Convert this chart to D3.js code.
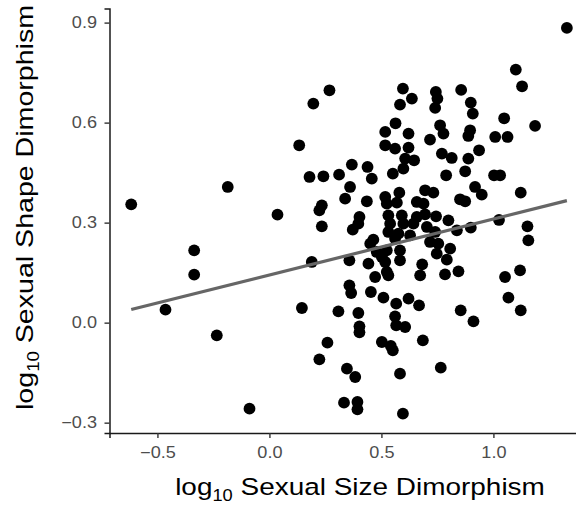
<!DOCTYPE html>
<html>
<head>
<meta charset="utf-8">
<script src="https://cdn.jsdelivr.net/npm/d3@7"></script>
<style>
  html, body { margin: 0; padding: 0; background: #fff; }
  svg { display: block; font-family: "Liberation Sans", Arial, Helvetica, sans-serif; }
</style>
</head>
<body>
<svg id="chart" width="576" height="506"></svg>
<script>
// log10 Sexual Size Dimorphism (x) and log10 Sexual Shape Dimorphism (y)
const ssdX = [
  -0.617,-0.186,-0.336,-0.336,-0.464,-0.235,-0.089,0.036,0.196,0.268,
  0.596,0.636,0.583,0.563,1.328,1.100,1.128,0.856,0.743,0.750,
  0.740,0.899,0.908,1.048,0.133,0.517,0.621,0.517,0.561,0.621,
  0.606,0.646,0.598,0.551,0.368,0.438,0.457,0.179,0.241,0.311,
  0.360,0.338,0.234,0.223,0.435,0.402,0.517,0.580,0.524,0.569,
  0.658,1.186,0.762,0.777,0.717,0.896,0.888,1.008,1.063,0.770,
  0.814,0.888,0.936,0.789,0.874,1.003,1.030,1.122,0.918,0.948,
  0.851,0.874,0.695,0.732,0.688,0.695,0.744,0.799,1.025,0.234,
  0.397,0.372,0.464,0.450,0.189,0.357,0.442,0.502,0.517,0.583,
  0.583,0.524,0.479,0.524,0.472,0.531,0.673,0.682,0.531,0.591,
  0.658,0.539,0.598,0.531,0.576,0.628,0.561,0.643,0.357,0.365,
  0.453,0.509,0.566,0.621,0.668,0.145,0.308,0.397,0.561,0.703,
  0.740,0.837,0.899,1.152,1.156,0.717,0.754,0.807,0.747,0.792,
  0.784,0.844,1.052,1.119,1.067,1.122,0.854,0.911,0.402,0.402,
  0.566,0.606,0.259,0.223,0.502,0.542,0.551,0.346,0.383,0.583,
  0.333,0.393,0.393,0.596,0.685,0.765
];
const sshY = [
  0.355,0.407,0.217,0.144,0.039,-0.038,-0.258,0.324,0.657,0.697,
  0.702,0.672,0.654,0.598,0.884,0.759,0.709,0.698,0.692,0.672,
  0.644,0.660,0.627,0.613,0.532,0.572,0.567,0.532,0.522,0.525,
  0.492,0.487,0.462,0.447,0.474,0.467,0.432,0.437,0.439,0.444,
  0.407,0.372,0.352,0.337,0.364,0.317,0.377,0.390,0.357,0.360,
  0.362,0.590,0.592,0.567,0.549,0.577,0.560,0.557,0.557,0.507,
  0.494,0.492,0.517,0.442,0.454,0.442,0.442,0.390,0.407,0.384,
  0.370,0.364,0.397,0.390,0.357,0.325,0.319,0.307,0.308,0.289,
  0.297,0.279,0.249,0.237,0.182,0.187,0.177,0.197,0.182,0.187,
  0.217,0.217,0.212,0.152,0.137,0.142,0.142,0.175,0.322,0.322,
  0.317,0.297,0.297,0.272,0.267,0.262,0.252,0.297,0.112,0.089,
  0.092,0.075,0.057,0.072,0.052,0.044,0.034,0.029,0.019,0.287,
  0.272,0.277,0.285,0.289,0.247,0.242,0.237,0.222,0.207,0.189,
  0.145,0.154,0.137,0.157,0.075,0.037,0.037,0.004,-0.011,-0.029,
  -0.008,-0.013,-0.060,-0.110,-0.058,-0.070,-0.083,-0.138,-0.163,-0.153,
  -0.240,-0.238,-0.260,-0.273,-0.053,-0.135
];
// fitted regression line (lm)
const fitIntercept = 0.143;
const fitSlope = 0.168;
const fitRange = [-0.617, 1.328];

const xTicks = [-0.5, 0.0, 0.5, 1.0];
const yTicks = [-0.3, 0.0, 0.3, 0.6, 0.9];
const xLabel = ["log", "10", " Sexual Size Dimorphism"];
const yLabel = ["log", "10", " Sexual Shape Dimorphism"];

const points = ssdX.map((x, i) => ({ x, y: sshY[i] }));

const svg = d3.select("#chart");
const x = d3.scaleLinear().domain([-0.714, 1.425]).range([109.5, 588.6]);
const y = d3.scaleLinear().domain([-0.331, 0.942]).range([433, 8.6]);

// points
svg.append("g")
  .selectAll("circle")
  .data(points)
  .join("circle")
  .attr("cx", d => x(d.x))
  .attr("cy", d => y(d.y))
  .attr("r", 5.9)
  .attr("fill", "#000");

// regression line
const line = d3.line().x(d => x(d)).y(d => y(fitIntercept + fitSlope * d));
svg.append("path")
  .datum(fitRange)
  .attr("d", line)
  .attr("fill", "none")
  .attr("stroke", "#666666")
  .attr("stroke-width", 3.2);

// axes
const fmt = d => d3.format(".1f")(d).replace("-", "\u2212");
const xAxis = svg.append("g")
  .attr("transform", `translate(0,${y.range()[0]})`)
  .call(d3.axisBottom(x).tickValues(xTicks).tickFormat(fmt).tickSizeOuter(0).tickSize(5).tickPadding(9));
const yAxis = svg.append("g")
  .attr("transform", `translate(${x.range()[0]},0)`)
  .call(d3.axisLeft(y).tickValues(yTicks).tickFormat(fmt).tickSizeOuter(0).tickSize(5).tickPadding(7.5));

[xAxis, yAxis].forEach(g => {
  g.select(".domain").attr("stroke", "#1a1a1a").attr("stroke-width", 1.5);
  g.selectAll(".tick line").attr("stroke", "#333").attr("stroke-width", 1.4);
  g.selectAll(".tick text")
    .attr("fill", "#4d4d4d")
    .style("font-size", "16px")
    .style("font-family", "'Liberation Sans', Arial, sans-serif")
    .each(function () {
      const w = this.getComputedTextLength();
      d3.select(this).attr("textLength", w * 1.13).attr("lengthAdjust", "spacingAndGlyphs");
    });
});

// axis titles
function title(parts, transform, targetLen) {
  const g = svg.append("g").attr("transform", transform);
  const t = g.append("text")
    .attr("text-anchor", "middle")
    .attr("fill", "#000")
    .style("font-size", "24.5px");
  t.append("tspan").text(parts[0]);
  t.append("tspan").text(parts[1]).attr("dy", 6).style("font-size", "16px");
  t.append("tspan").text(parts[2]).attr("dy", -6);
  const w = t.node().getBBox().width;
  t.attr("transform", `scale(${targetLen / w},1)`);
}
title(xLabel, "translate(360,495)", 370);
title(yLabel, "translate(33,207.5) rotate(-90)", 405);
</script>
</body>
</html>
